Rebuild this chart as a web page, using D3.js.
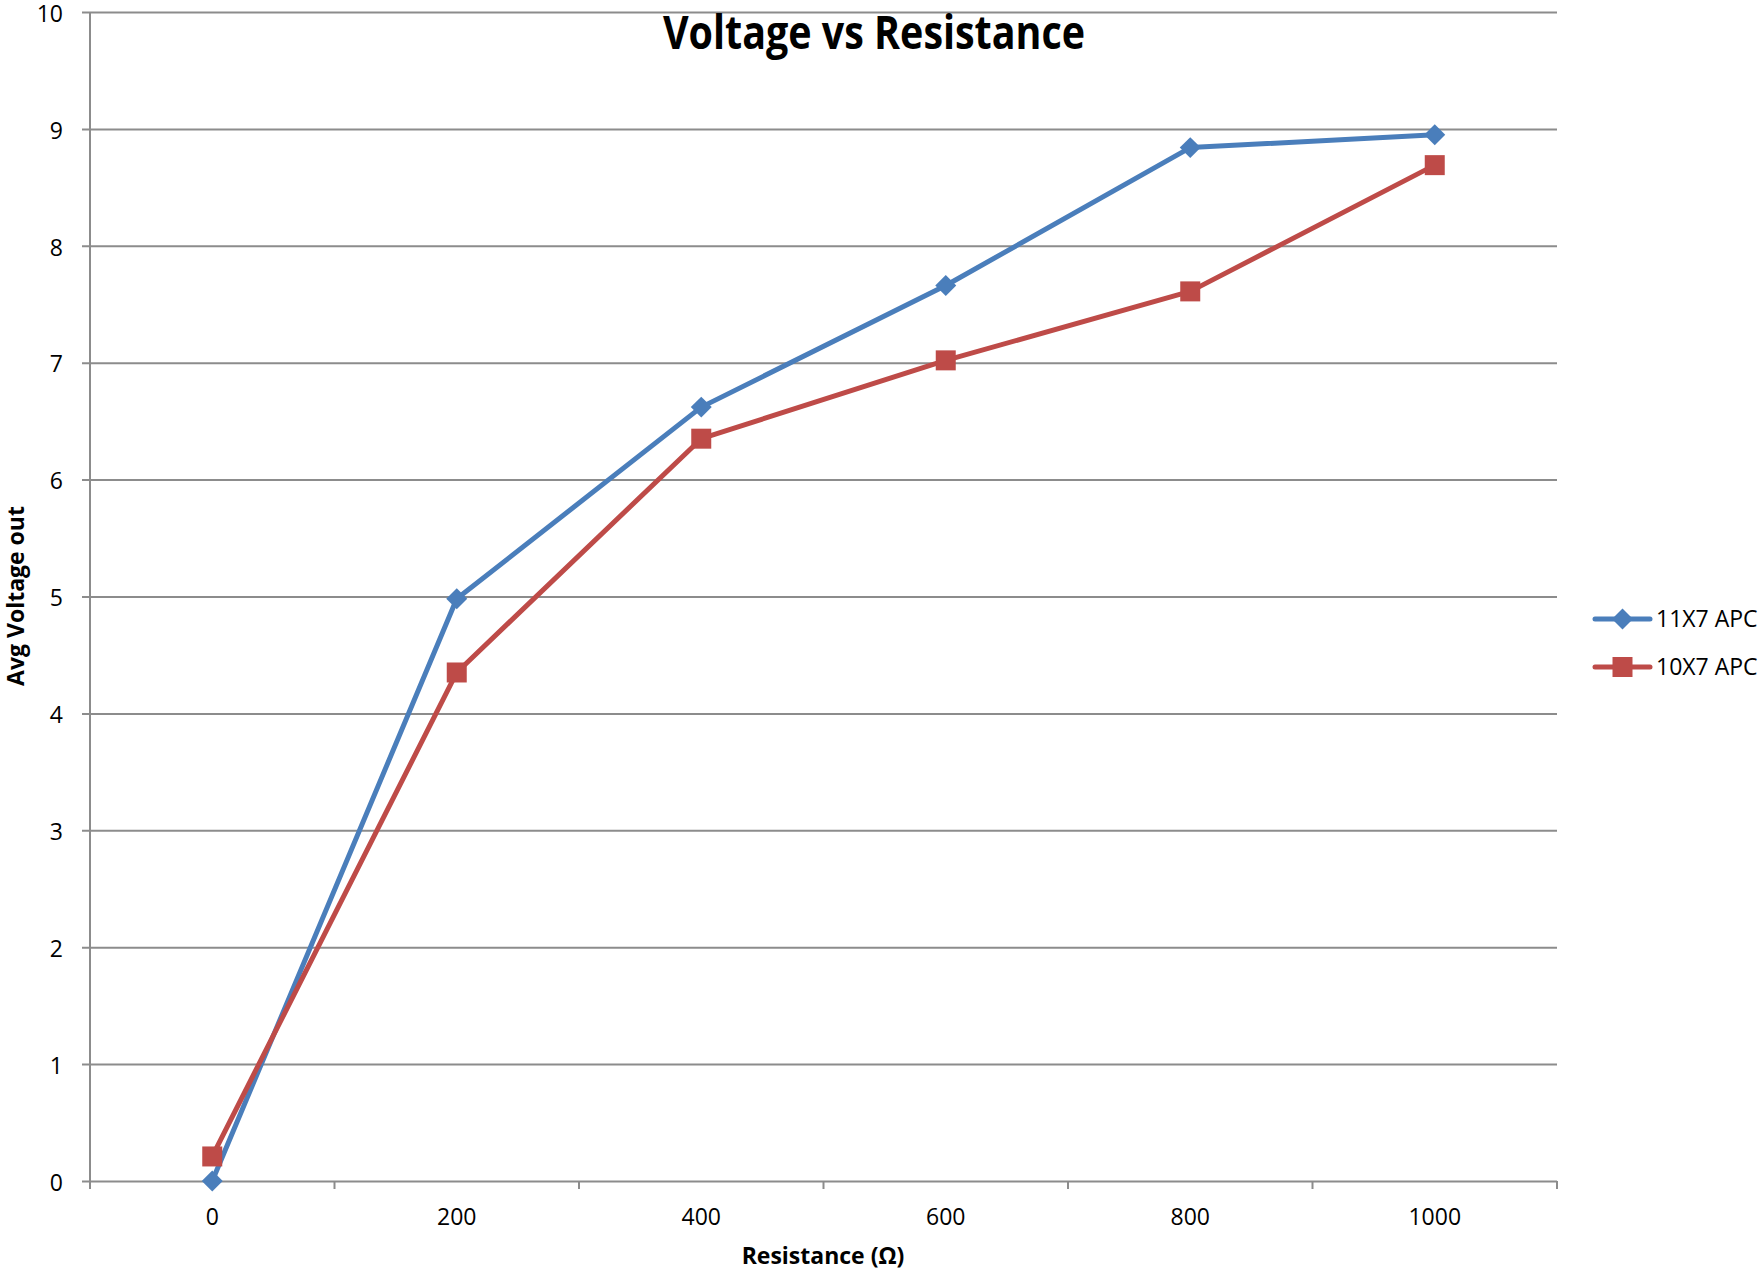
<!DOCTYPE html>
<html>
<head>
<meta charset="utf-8">
<script src="https://cdn.jsdelivr.net/npm/d3@7"></script>
<style>
  body { margin: 0; background: #fff; }
  text { font-family: "Open Sans", "DejaVu Sans", sans-serif; fill: #000; }
</style>
</head>
<body>
<script>
// Data
var resistance = ["0", "200", "400", "600", "800", "1000"];
var apc11x7 = [0, 4.98, 6.62, 7.66, 8.84, 8.95];
var apc10x7 = [0.21, 4.35, 6.35, 7.02, 7.61, 8.69];
var seriesNames = ["11X7 APC", "10X7 APC"];
var yTicks = [0, 1, 2, 3, 4, 5, 6, 7, 8, 9, 10];

// SVG variables
var margin = {top: 12, right: 205, bottom: 90, left: 90},
    width = 1762 - margin.left - margin.right,
    height = 1271 - margin.top - margin.bottom;

var svg = d3.select("body").append("svg")
    .attr("width", 1762)
    .attr("height", 1271);

var g = svg.append("g")
    .attr("transform", "translate(" + margin.left + "," + margin.top + ")");

// Scales
var x = d3.scaleBand().domain(resistance).range([0, width]).padding(0);
var y = d3.scaleLinear().domain([0, 10]).range([height, 0]);
var cx = function(d, i) { return x(resistance[i]) + x.bandwidth() / 2; };

// Gridlines (they run out as the y ticks)
g.append("g")
    .attr("class", "grid")
    .call(d3.axisLeft(y).tickValues(yTicks).tickSize(-width - 8).tickFormat(""))
    .attr("transform", "translate(-8,0)")
    .call(function(s) {
        s.select(".domain").remove();
        s.selectAll("line").attr("stroke", "#8c8c8c").attr("stroke-width", 2);
    });

// Y axis labels
g.append("g")
    .call(d3.axisLeft(y).tickValues(yTicks).tickSize(0).tickPadding(27))
    .call(function(s) {
        s.select(".domain").remove();
        s.selectAll("text").style("font-size", "23px").attr("dy", "0.4em");
    });

// Y axis line
g.append("line")
    .attr("x1", 0).attr("x2", 0)
    .attr("y1", 0).attr("y2", height + 8)
    .attr("stroke", "#8c8c8c").attr("stroke-width", 2);

// X axis: tick marks at band boundaries
var bounds = resistance.map(function(d) { return x(d); }).concat([width]);
g.selectAll(".xtick")
    .data(bounds)
    .enter().append("line")
    .attr("class", "xtick")
    .attr("x1", function(d) { return d; })
    .attr("x2", function(d) { return d; })
    .attr("y1", height).attr("y2", height + 8)
    .attr("stroke", "#8c8c8c").attr("stroke-width", 2);

g.append("g")
    .attr("transform", "translate(0," + height + ")")
    .call(d3.axisBottom(x).tickSize(0).tickPadding(28))
    .call(function(s) {
        s.select(".domain").remove();
        s.selectAll("text").style("font-size", "23px");
    });

// Titles
svg.append("text")
    .attr("x", 874).attr("y", 49)
    .attr("text-anchor", "middle")
    .style("font-size", "46px").style("font-weight", "bold")
    .attr("textLength", 422).attr("lengthAdjust", "spacingAndGlyphs")
    .text("Voltage vs Resistance");

svg.append("text")
    .attr("x", 823).attr("y", 1264)
    .attr("text-anchor", "middle")
    .style("font-size", "23px").style("font-weight", "bold")
    .text("Resistance (Ω)");

svg.append("text")
    .attr("transform", "translate(24,596) rotate(-90)")
    .attr("text-anchor", "middle")
    .style("font-size", "23px").style("font-weight", "bold")
    .text("Avg Voltage out");

// Lines
var line = d3.line()
    .x(function(d, i) { return cx(d, i); })
    .y(function(d) { return y(d); });

var colors = ["#4a7ebb", "#be4b48"];
var series = [apc11x7, apc10x7];
var diamond = d3.symbol().type(d3.symbolDiamond2).size(280);
var square = d3.symbol().type(d3.symbolSquare).size(400);
var shapes = [diamond, square];

series.forEach(function(vals, k) {
    g.append("path")
        .datum(vals)
        .attr("fill", "none")
        .attr("stroke", colors[k])
        .attr("stroke-width", 5)
        .attr("stroke-linejoin", "round")
        .attr("d", line);
});

series.forEach(function(vals, k) {
    g.selectAll(".pt" + k)
        .data(vals)
        .enter().append("path")
        .attr("class", "pt" + k)
        .attr("transform", function(d, i) { return "translate(" + cx(d, i) + "," + y(d) + ")"; })
        .attr("fill", colors[k])
        .attr("d", shapes[k]);
});

// Legend
var legend = svg.append("g").attr("transform", "translate(1595,619)");
seriesNames.forEach(function(name, k) {
    var row = legend.append("g").attr("transform", "translate(0," + (k * 48) + ")");
    row.append("line")
        .attr("x1", 0).attr("x2", 55)
        .attr("stroke", colors[k]).attr("stroke-width", 5)
        .attr("stroke-linecap", "round");
    row.append("path")
        .attr("transform", "translate(27.5,0)")
        .attr("fill", colors[k])
        .attr("d", shapes[k]);
    row.append("text")
        .attr("x", 61).attr("dy", "0.36em")
        .style("font-size", "23px")
        .text(name);
});
</script>
</body>
</html>
